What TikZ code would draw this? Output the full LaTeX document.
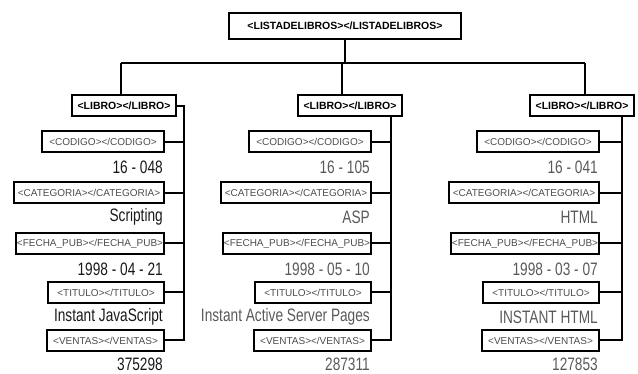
\documentclass[tikz,border=0pt]{standalone}
\usepackage{fontspec}
\setmainfont{Liberation Sans}
\usetikzlibrary{positioning}
\tikzset{
  tagbox/.style={draw, line width=2pt, inner sep=0pt, minimum height=21pt, text=black!70, font=\fontsize{10}{10}\selectfont},
  bigbox/.style={tagbox, text=black, font=\fontsize{10.5}{10.5}\selectfont\bfseries},
  valtext/.style={anchor=east, inner sep=0pt, font=\fontsize{18}{18}\selectfont},
  link/.style={line width=2pt},
}
\newcommand{\slim}[1]{\scalebox{0.76}[1]{#1}}
\begin{document}
\begin{tikzpicture}[x=1pt,y=-1pt]
    \useasboundingbox (0,0) rectangle (638,374);
    %% root
    \node[bigbox, minimum width=232pt, minimum height=26pt] (lista) at (345,26) {<LISTADELIBROS></LISTADELIBROS>};
    \coordinate (bus-a) at (121,63);
    \coordinate (bus-c) at (585,63);
    \draw[link] (bus-a) -- (bus-c);
    \draw[link] (lista.south) -- (lista.south |- bus-a);
    %% books
    \foreach \c/\rx/\lx/\dx/\sx/\tone/\cod/\cat/\fec/\tit/\ven in {
        a/165/124/121/184/90/16 - 048/Scripting/1998 - 04 - 21/Instant JavaScript/375298,
        b/372/350/342/391/65/16 - 105/ASP/1998 - 05 - 10/Instant Active Server Pages/287311,
        c/600/582/585/622/65/16 - 041/HTML/1998 - 03 - 07/INSTANT HTML/127853}{
        \node[bigbox, minimum width=104pt] (lib-\c) at (\lx,106) {<LIBRO></LIBRO>};
        \draw[link] (\dx,63) -- (lib-\c.north -| \dx,0);
        \node[tagbox, anchor=east, minimum width=122pt] (cod-\c) at (\rx,142) {<CODIGO></CODIGO>};
        \node[tagbox, anchor=east, minimum width=150pt] (cat-\c) at (\rx,193) {<CATEGORIA></CATEGORIA>};
        \node[tagbox, anchor=east, minimum width=148pt] (fec-\c) at (\rx,243.5) {<FECHA\_PUB></FECHA\_PUB>};
        \node[tagbox, anchor=east, minimum width=116pt] (tit-\c) at (\rx,292.5) {<TITULO></TITULO>};
        \node[tagbox, anchor=east, minimum width=117pt] (ven-\c) at (\rx,340.5) {<VENTAS></VENTAS>};
        \node[valtext, text=black!\tone] (vcod-\c) at (\rx-2,167) {\slim{\cod}};
        \node[valtext, text=black!\tone] (vcat-\c) at (\rx-2,217) {\slim{\cat}};
        \node[valtext, text=black!\tone] (vfec-\c) at (\rx-2,269) {\slim{\fec}};
        \node[valtext, text=black!\tone] (vtit-\c) at (\rx-2,317) {\slim{\tit}};
        \node[valtext, text=black!\tone] (vven-\c) at (\rx-2,364) {\slim{\ven}};
        \foreach \t in {cod,cat,fec,tit}
            \draw[link] (\t-\c.east) -- (\t-\c.east -| \sx,0);
        \draw[link] (ven-\c.east) -| (\sx,300);
    }
    %% spines
    \draw[link] (lib-a.east) -| (184,300);
    \draw[link] (lib-b.south -| 391,0) -- (391,300);
    \draw[link] (lib-c.south -| 622,0) -- (622,300);
\end{tikzpicture}
\end{document}
